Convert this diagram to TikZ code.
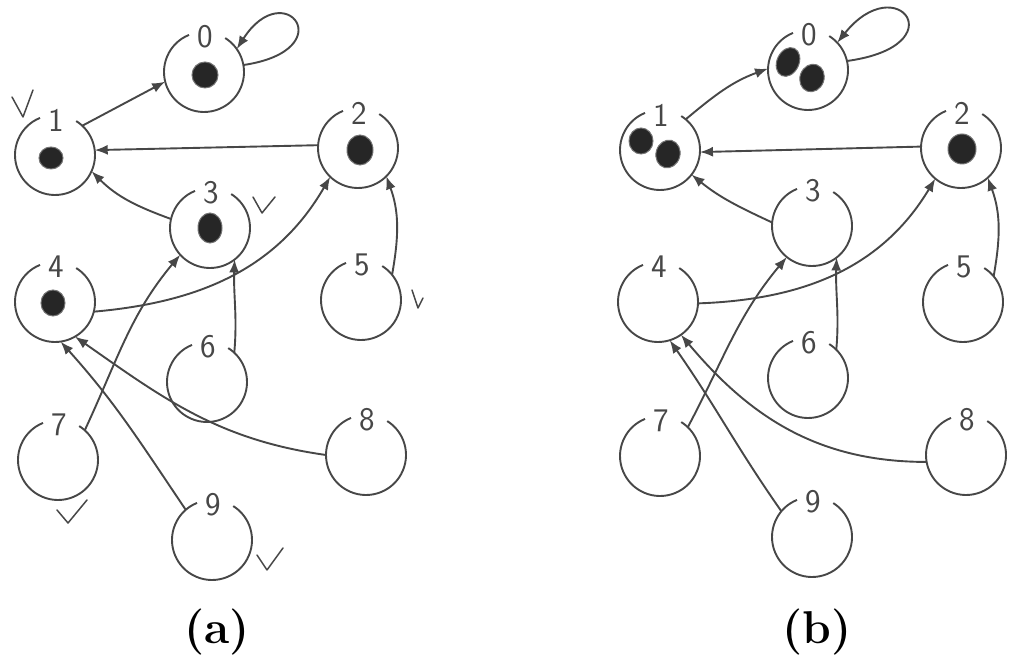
\documentclass[tikz,border=0pt]{standalone}
\usepackage{fontspec}
\usetikzlibrary{arrows.meta}
\newcommand\mkvtx[4]{%
  \node[vtx] (#1) at (#2,#3) {};
  \draw[ink] (#1.112) arc[start angle=112, end angle=418, radius=40pt];
  \node[lbl] (#1l) at ({#2+1.5},{#3+35}) {#4};
}
\begin{document}
\begin{tikzpicture}[x=1pt,y=1pt,
  ink/.style={draw=black!72, line width=1.9pt},
  vtx/.style={circle, minimum size=80pt, inner sep=0pt, outer sep=0pt},
  lbl/.style={font=\sffamily\fontsize{33}{33}\selectfont, text=black!72, inner sep=0pt},
  arr/.style={ink, -{Latex[length=13pt,width=10pt]}},
  dotb/.style={fill=black!85, draw=black!55, line width=1pt},
  tick/.style={draw=black!72, line width=1.5pt, line join=round, line cap=round},
  capt/.style={font=\bfseries\fontsize{46}{46}\selectfont, inner sep=0pt}
]
\useasboundingbox (0,0) rectangle (1024,668);
% ---------- (a) ----------
\mkvtx{a0}{204}{596}{0}
\mkvtx{a1}{55}{513}{1}
\mkvtx{a2}{358}{520}{2}
\mkvtx{a3}{210}{440}{3}
\mkvtx{a4}{55}{366}{4}
\mkvtx{a5}{361}{368}{5}
\mkvtx{a6}{207}{286}{6}
\mkvtx{a7}{58}{208}{7}
\mkvtx{a8}{366}{213}{8}
\mkvtx{a9}{212}{128}{9}
\fill[dotb] (205,593) ellipse[x radius=13, y radius=13];
\fill[dotb] (51,510) ellipse[x radius=12, y radius=11];
\fill[dotb] (360,518) ellipse[x radius=13, y radius=15];
\fill[dotb] (210,440) ellipse[x radius=12, y radius=15];
\fill[dotb] (53,365) ellipse[x radius=12, y radius=13];
\draw[arr] (a1.47) -- (a0.194);
\draw[arr] (a2.176) -- (a1.7);
\draw[arr] (a3.167) to[out=160,in=-45] (a1.-24);
\draw[arr] (a4.-14) to[out=5,in=240] (a2.226);
\draw[arr] (a5.39) to[out=80,in=-70] (a2.-45);
\draw[arr] (a6.47) to[out=85,in=-92] (a3.-52);
\draw[arr] (a7.48) to[out=65,in=230] (a3.222);
\draw[arr] (a8.180) to[out=172,in=-35] (a4.-60);
\draw[arr] (a9.131) to[out=124,in=-48] (a4.-82);
\draw[arr] (a0.10) .. controls +(100,15) and +(48,75) .. (a0.35);
\draw[tick] (12,571) -- (23,551) -- (33,578);
\draw[tick] (253,471) -- (262,455) -- (275,471);
\draw[tick] (412,378) -- (418,360) -- (423,370);
\draw[tick] (57,158) -- (68,145) -- (87,168);
\draw[tick] (257,113) -- (267,98) -- (283,120);
\node[capt] (capa) at (217,36) {(a)};
% ---------- (b) ----------
\mkvtx{b0}{808}{598}{0}
\mkvtx{b1}{660}{518}{1}
\mkvtx{b2}{961}{520}{2}
\mkvtx{b3}{812}{442}{3}
\mkvtx{b4}{658}{366}{4}
\mkvtx{b5}{963}{366}{5}
\mkvtx{b6}{808}{290}{6}
\mkvtx{b7}{660}{212}{7}
\mkvtx{b8}{966}{213}{8}
\mkvtx{b9}{812}{131}{9}
\fill[dotb,rotate around={-25:(788,606)}] (788,606) ellipse[x radius=11, y radius=15];
\fill[dotb,rotate around={-20:(812,590)}] (812,590) ellipse[x radius=12, y radius=14];
\fill[dotb] (641,527) ellipse[x radius=12, y radius=13];
\fill[dotb,rotate around={-15:(668,514)}] (668,514) ellipse[x radius=12, y radius=14];
\fill[dotb] (962,519) ellipse[x radius=14, y radius=15];
\draw[arr] (b1.50) to[out=40,in=200] (b0.178);
\draw[arr] (b2.178) -- (b1.-3);
\draw[arr] (b3.175) to[out=155,in=-39] (b1.-38);
\draw[arr] (b4.-2) to[out=2,in=239] (b2.230);
\draw[arr] (b5.40) to[out=80,in=-70] (b2.-48);
\draw[arr] (b6.45) to[out=85,in=-92] (b3.-52);
\draw[arr] (b7.46) to[out=62,in=230] (b3.231);
\draw[arr] (b8.190) to[out=180,in=-50] (b4.-55);
\draw[arr] (b9.140) to[out=125,in=-55] (b4.-73);
\draw[arr] (b0.13) .. controls +(110,15) and +(60,75) .. (b0.43);
\node[capt] (capb) at (817,36) {(b)};
\end{tikzpicture}
\end{document}
